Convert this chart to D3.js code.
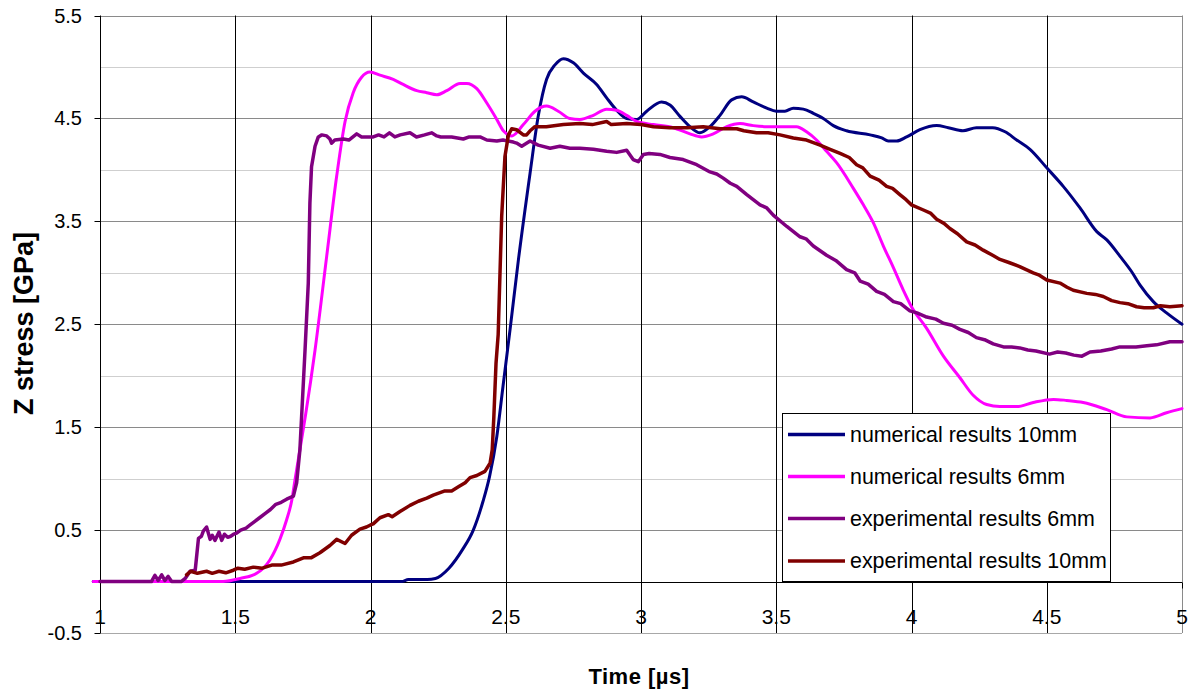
<!DOCTYPE html>
<html><head><meta charset="utf-8">
<script src="https://cdn.jsdelivr.net/npm/d3@7"></script>
<style>body{margin:0;background:#fff;overflow:hidden}</style>
</head><body>
<svg id="c" width="1194" height="693"></svg>
<script>
const xTicks = [1, 1.5, 2, 2.5, 3, 3.5, 4, 4.5, 5];
const yTicks = [-0.5, 0.5, 1.5, 2.5, 3.5, 4.5, 5.5];
const yMinorGrid = [0, 1, 2, 3, 4, 5];
const seriesNames = ["numerical results 10mm", "numerical results 6mm", "experimental results 6mm", "experimental results 10mm"];
const seriesColors = ["#000080", "#FF00FF", "#800080", "#800000"];

const num10T = [0.975,1.5,2.0,2.115,2.14,2.21,2.24,2.29,2.34,2.38,2.416,2.44,2.467,2.49,2.516,2.547,2.59,2.62,2.651,2.682,2.713,2.75,2.787,2.836,2.873,2.91,2.947,2.984,3.021,3.076,3.107,3.144,3.181,3.218,3.255,3.292,3.335,3.372,3.415,3.465,3.50,3.532,3.563,3.6,3.637,3.674,3.711,3.76,3.847,3.89,3.914,3.945,3.982,4.031,4.093,4.136,4.19,4.24,4.30,4.346,4.389,4.438,4.50,4.561,4.623,4.685,4.722,4.771,4.814,4.845,4.894,4.943,5.0];
const num10V = [0,0,0,0,0.02,0.02,0.03,0.13,0.31,0.50,0.78,1.02,1.41,1.90,2.45,3.13,3.97,4.52,4.88,5.02,5.08,5.04,4.94,4.83,4.70,4.58,4.50,4.49,4.57,4.66,4.63,4.52,4.42,4.36,4.42,4.53,4.68,4.71,4.66,4.60,4.57,4.57,4.60,4.59,4.55,4.50,4.43,4.38,4.34,4.31,4.28,4.28,4.32,4.39,4.43,4.41,4.38,4.41,4.41,4.37,4.29,4.20,4.02,3.84,3.63,3.40,3.32,3.16,3.01,2.88,2.72,2.61,2.50];

const num6T = [0.975,1.3,1.455,1.518,1.579,1.628,1.665,1.69,1.709,1.721,1.739,1.76,1.795,1.838,1.875,1.906,1.936,1.967,1.998,2.035,2.084,2.121,2.171,2.208,2.245,2.282,2.331,2.356,2.393,2.43,2.467,2.491,2.523,2.565,2.608,2.651,2.694,2.737,2.774,2.824,2.873,2.91,2.947,2.984,3.046,3.119,3.181,3.224,3.267,3.317,3.366,3.415,3.465,3.514,3.575,3.612,3.649,3.686,3.723,3.785,3.822,3.86,3.896,3.933,3.97,4.0,4.056,4.118,4.179,4.228,4.278,4.327,4.389,4.45,4.525,4.574,4.635,4.722,4.796,4.882,4.943,5.0];
const num6V = [0,0,0,0.03,0.08,0.21,0.41,0.60,0.79,0.99,1.28,1.62,2.25,3.16,3.94,4.47,4.75,4.90,4.95,4.92,4.88,4.83,4.77,4.75,4.73,4.77,4.84,4.84,4.79,4.65,4.49,4.38,4.33,4.44,4.57,4.62,4.57,4.50,4.49,4.53,4.59,4.58,4.53,4.47,4.44,4.41,4.35,4.32,4.35,4.42,4.45,4.43,4.42,4.42,4.42,4.37,4.29,4.18,4.07,3.82,3.66,3.48,3.26,3.05,2.83,2.67,2.46,2.19,1.98,1.81,1.72,1.70,1.70,1.74,1.77,1.76,1.74,1.67,1.60,1.59,1.64,1.68];

const exp6T = [1.0,1.1,1.19,1.203,1.215,1.228,1.24,1.252,1.265,1.30,1.315,1.333,1.352,1.364,1.375,1.382,1.394,1.407,1.415,1.425,1.44,1.45,1.46,1.472,1.483,1.494,1.505,1.52,1.54,1.555,1.57,1.59,1.61,1.63,1.65,1.67,1.69,1.715,1.727,1.739,1.758,1.77,1.776,1.782,1.795,1.807,1.82,1.838,1.85,1.856,1.868,1.9,1.92,1.949,1.967,2.01,2.03,2.05,2.07,2.09,2.11,2.146,2.17,2.2,2.226,2.245,2.26,2.30,2.343,2.365,2.405,2.43,2.467,2.49,2.528,2.54,2.559,2.59,2.62,2.664,2.70,2.737,2.774,2.824,2.873,2.91,2.947,2.971,2.99,3.009,3.03,3.07,3.107,3.156,3.206,3.255,3.28,3.304,3.33,3.354,3.391,3.44,3.465,3.489,3.539,3.588,3.61,3.637,3.686,3.72,3.76,3.79,3.81,3.84,3.871,3.9,3.933,3.96,3.994,4.02,4.056,4.09,4.118,4.15,4.179,4.21,4.24,4.27,4.302,4.34,4.37,4.40,4.43,4.46,4.51,4.54,4.57,4.60,4.63,4.66,4.70,4.74,4.77,4.83,4.87,4.906,4.955,5.0];
const exp6V = [0,0,0,0.06,0.01,0.065,0.01,0.05,0,0,0.03,0.10,0.11,0.42,0.44,0.49,0.53,0.41,0.45,0.40,0.48,0.40,0.46,0.43,0.44,0.46,0.47,0.50,0.52,0.55,0.58,0.62,0.66,0.70,0.75,0.77,0.80,0.83,0.96,1.28,2.25,2.90,3.68,4.03,4.23,4.32,4.34,4.33,4.30,4.26,4.29,4.30,4.29,4.35,4.32,4.32,4.34,4.32,4.36,4.32,4.34,4.36,4.32,4.34,4.36,4.33,4.32,4.32,4.30,4.32,4.32,4.29,4.28,4.29,4.27,4.26,4.23,4.28,4.24,4.21,4.23,4.21,4.21,4.20,4.18,4.17,4.19,4.10,4.08,4.15,4.16,4.15,4.12,4.10,4.05,3.98,3.96,3.92,3.87,3.84,3.76,3.66,3.63,3.56,3.45,3.35,3.33,3.26,3.17,3.12,3.03,3.00,2.92,2.89,2.82,2.79,2.72,2.70,2.63,2.61,2.57,2.55,2.51,2.49,2.45,2.42,2.37,2.35,2.31,2.28,2.28,2.27,2.25,2.24,2.21,2.23,2.22,2.20,2.19,2.23,2.24,2.26,2.28,2.28,2.29,2.30,2.33,2.33];

const exp10T = [1.32,1.335,1.36,1.394,1.415,1.44,1.465,1.493,1.51,1.535,1.567,1.60,1.635,1.67,1.715,1.752,1.78,1.813,1.85,1.875,1.906,1.93,1.961,1.985,2.0,2.01,2.035,2.066,2.08,2.109,2.146,2.177,2.208,2.232,2.275,2.30,2.325,2.35,2.368,2.393,2.423,2.442,2.45,2.456,2.464,2.472,2.485,2.497,2.51,2.522,2.54,2.565,2.577,2.59,2.608,2.65,2.713,2.774,2.82,2.873,2.89,2.947,3.0,3.046,3.107,3.17,3.23,3.292,3.354,3.38,3.427,3.47,3.514,3.563,3.612,3.662,3.699,3.736,3.77,3.797,3.82,3.847,3.88,3.908,3.93,3.957,3.98,4.0,4.044,4.07,4.093,4.12,4.142,4.17,4.204,4.235,4.265,4.30,4.327,4.36,4.40,4.45,4.47,4.50,4.549,4.575,4.598,4.648,4.68,4.709,4.74,4.771,4.80,4.832,4.86,4.894,4.92,4.955,5.0];
const exp10V = [0.065,0.10,0.08,0.10,0.08,0.10,0.085,0.11,0.13,0.12,0.14,0.13,0.16,0.16,0.19,0.23,0.23,0.28,0.35,0.41,0.37,0.45,0.51,0.53,0.55,0.56,0.62,0.65,0.63,0.68,0.74,0.78,0.81,0.84,0.88,0.88,0.92,0.96,1.01,1.03,1.07,1.15,1.28,1.60,2.12,2.40,3.55,4.13,4.34,4.40,4.39,4.34,4.34,4.38,4.42,4.42,4.44,4.45,4.44,4.47,4.44,4.45,4.44,4.42,4.41,4.41,4.42,4.40,4.40,4.38,4.36,4.36,4.34,4.31,4.29,4.24,4.20,4.16,4.12,4.05,4.02,3.94,3.90,3.84,3.82,3.76,3.71,3.66,3.61,3.58,3.52,3.48,3.43,3.38,3.30,3.27,3.22,3.17,3.13,3.10,3.06,3.00,2.98,2.93,2.90,2.86,2.83,2.80,2.79,2.77,2.73,2.71,2.70,2.67,2.66,2.66,2.68,2.67,2.68];

const seriesData = [
  {T: num10T, V: num10V, smooth: true},
  {T: num6T, V: num6V, smooth: true},
  {T: exp6T, V: exp6V, smooth: false},
  {T: exp10T, V: exp10V, smooth: false}
];

const svg = d3.select("#c");
const L = 100, R = 1182, T = 15.5, B = 633;
const x = d3.scaleLinear().domain([1, 5]).range([L, R]);
const y = d3.scaleLinear().domain([-0.5, 5.5]).range([B, T]);
const crisp = v => Math.round(v) + 0.5;
const font = "'Liberation Sans', Arial, sans-serif";

const g = svg.append("g");
g.selectAll(".gmin").data(yMinorGrid).join("line")
  .attr("x1", L).attr("x2", R)
  .attr("y1", d => crisp(y(d))).attr("y2", d => crisp(y(d)))
  .attr("stroke", d => d === 0 ? "#000" : "#cfcfcf").attr("stroke-width", 1);
g.selectAll(".gmaj").data(yTicks).join("line")
  .attr("x1", L).attr("x2", R)
  .attr("y1", d => crisp(y(d))).attr("y2", d => crisp(y(d)))
  .attr("stroke", d => d === -0.5 ? "#a8a8a8" : "#8a8a8a").attr("stroke-width", 1);
g.selectAll(".gv").data(xTicks.filter(d => d > 1 && d < 5)).join("line")
  .attr("x1", d => crisp(x(d))).attr("x2", d => crisp(x(d)))
  .attr("y1", T).attr("y2", B)
  .attr("stroke", "#000").attr("stroke-width", 1);
g.append("line").attr("x1", crisp(R)).attr("x2", crisp(R)).attr("y1", T).attr("y2", B)
  .attr("stroke", "#8a8a8a");
g.append("line").attr("x1", crisp(L)).attr("x2", crisp(L)).attr("y1", T).attr("y2", B)
  .attr("stroke", "#000");
g.selectAll(".yt").data(yTicks).join("line")
  .attr("x1", crisp(L) - 6).attr("x2", crisp(L))
  .attr("y1", d => crisp(y(d))).attr("y2", d => crisp(y(d)))
  .attr("stroke", "#000");
g.selectAll(".xt").data(xTicks).join("line")
  .attr("x1", d => crisp(x(d))).attr("x2", d => crisp(x(d)))
  .attr("y1", crisp(y(0))).attr("y2", crisp(y(0)) + 6)
  .attr("stroke", "#000");

svg.selectAll(".yl").data(yTicks).join("text")
  .attr("x", 82).attr("y", d => y(d) + 7)
  .attr("text-anchor", "end")
  .attr("font-family", font).attr("font-size", 20).attr("fill", "#000")
  .text(d => d3.format(".1f")(d).replace("−", "-"));
svg.selectAll(".xl").data(xTicks).join("text")
  .attr("x", d => x(d)).attr("y", 624)
  .attr("text-anchor", "middle")
  .attr("font-family", font).attr("font-size", 21).attr("fill", "#000")
  .text(d => String(d));

const lineSmooth = d3.line().x(d => x(d[0])).y(d => y(d[1])).curve(d3.curveMonotoneX);
const lineRaw = d3.line().x(d => x(d[0])).y(d => y(d[1]));
seriesData.forEach((s, i) => {
  const pts = s.T.map((t, k) => [t, s.V[k]]);
  svg.append("path").datum(pts)
    .attr("d", s.smooth ? lineSmooth : lineRaw)
    .attr("fill", "none").attr("stroke", seriesColors[i])
    .attr("stroke-width", s.smooth ? 3 : 3.5).attr("stroke-linejoin", "round").attr("stroke-linecap", "round");
});

const lg = svg.append("g");
lg.append("rect").attr("x", 782.5).attr("y", 413.5).attr("width", 328).attr("height", 168)
  .attr("fill", "#fff").attr("stroke", "#000").attr("stroke-width", 1);
const rowY = [434.5, 476.5, 518.5, 561];
seriesNames.forEach((n, i) => {
  lg.append("line").attr("x1", 788).attr("x2", 845).attr("y1", rowY[i]).attr("y2", rowY[i])
    .attr("stroke", seriesColors[i]).attr("stroke-width", 3.5);
  lg.append("text").attr("x", 850).attr("y", rowY[i] + 7)
    .attr("font-family", font).attr("font-size", 21.4).attr("fill", "#000")
    .text(n);
});

svg.append("text").attr("x", 639).attr("y", 684)
  .attr("text-anchor", "middle").attr("font-family", font).attr("font-weight", "bold")
  .attr("font-size", 22).attr("letter-spacing", 0.5).text("Time [µs]");
svg.append("text").attr("transform", "translate(33,323.5) rotate(-90)")
  .attr("text-anchor", "middle").attr("font-family", font).attr("font-weight", "bold")
  .attr("font-size", 27).text("Z stress [GPa]");
</script>
</body></html>
